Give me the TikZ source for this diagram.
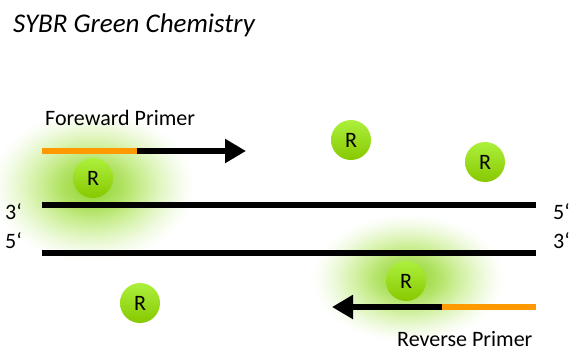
\documentclass[tikz,border=0pt]{standalone}
\usepackage{fontspec}
\setmainfont{Carlito}
\usetikzlibrary{arrows.meta}

% soft green halo fading smoothly to white towards the rim
\pgfdeclareradialshading{haze}{\pgfpoint{0bp}{0bp}}{%
  rgb(0bp)=(0.60,0.84,0.22);
  rgb(4bp)=(0.63,0.86,0.28);
  rgb(8bp)=(0.70,0.89,0.40);
  rgb(12bp)=(0.79,0.93,0.57);
  rgb(16bp)=(0.87,0.96,0.73);
  rgb(20bp)=(0.94,0.98,0.88);
  rgb(23bp)=(0.98,0.995,0.96);
  rgb(25bp)=(1,1,1);
  rgb(50bp)=(1,1,1)}

\definecolor{primerorange}{RGB}{255,153,0}
\definecolor{dyetop}{RGB}{172,240,60}
\definecolor{dyebottom}{RGB}{136,200,0}

\tikzset{
  strand/.style={line width=6pt, black},
  primertail/.style={line width=6pt, primerorange},
  primerhead/.style={line width=6pt, black, -{Triangle[length=21pt,width=23pt]}},
  dye/.style={circle, minimum size=40pt, inner sep=0pt,
    top color=dyetop, bottom color=dyebottom,
    font=\fontsize{22}{26}\selectfont},
  label/.style={font=\fontsize{22}{26}\selectfont, inner sep=0pt},
  endlabel/.style={font=\fontsize{22}{26}\selectfont, inner sep=0pt},
}

\begin{document}
\begin{tikzpicture}[x=1pt,y=-1pt]
\useasboundingbox (0,0) rectangle (569,351);
\fill[white] (0,0) rectangle (569,351);

% halos around the bound dye molecules
\shade[shading=haze] (92,186) ellipse [x radius=102, y radius=76];
\shade[shading=haze] (408,278) ellipse [x radius=96, y radius=64];

% title
\node[anchor=base west, inner sep=0pt, font=\fontsize{27}{32}\selectfont\itshape]
  (title) at (13,32) {SYBR Green Chemistry};

% DNA strands
\coordinate (topL) at (42,205);
\coordinate (topR) at (536,205);
\coordinate (botL) at (42,253);
\coordinate (botR) at (536,253);
\draw[strand] (topL) -- (topR);
\draw[strand] (botL) -- (botR);

% strand end labels
\node[endlabel, anchor=base west] (l3) at (5,219) {3‘};
\node[endlabel, anchor=base west] (l5) at (5,248) {5‘};
\node[endlabel, anchor=base west] (r5) at (553,219) {5‘};
\node[endlabel, anchor=base west] (r3) at (553,248) {3‘};

% forward primer
\coordinate (fp0) at (42,151);
\coordinate (fp1) at (137,151);
\coordinate (fp2) at (246,151);
\draw[primertail] (fp0) -- (fp1);
\draw[primerhead] (fp1) -- (fp2);
\node[label, anchor=base west] (fplabel) at (45,125) {Foreward Primer};

% reverse primer
\coordinate (rp0) at (536,307);
\coordinate (rp1) at (442,307);
\coordinate (rp2) at (332,307);
\draw[primertail] (rp0) -- (rp1);
\draw[primerhead] (rp1) -- (rp2);
\node[label, anchor=base west] (rplabel) at (397,346) {Reverse Primer};

% SYBR Green dye molecules
\node[dye] (d1) at (93,178) {R};
\node[dye] (d2) at (351,140) {R};
\node[dye] (d3) at (485,162) {R};
\node[dye] (d4) at (406,281) {R};
\node[dye] (d5) at (140,303) {R};
\end{tikzpicture}
\end{document}
